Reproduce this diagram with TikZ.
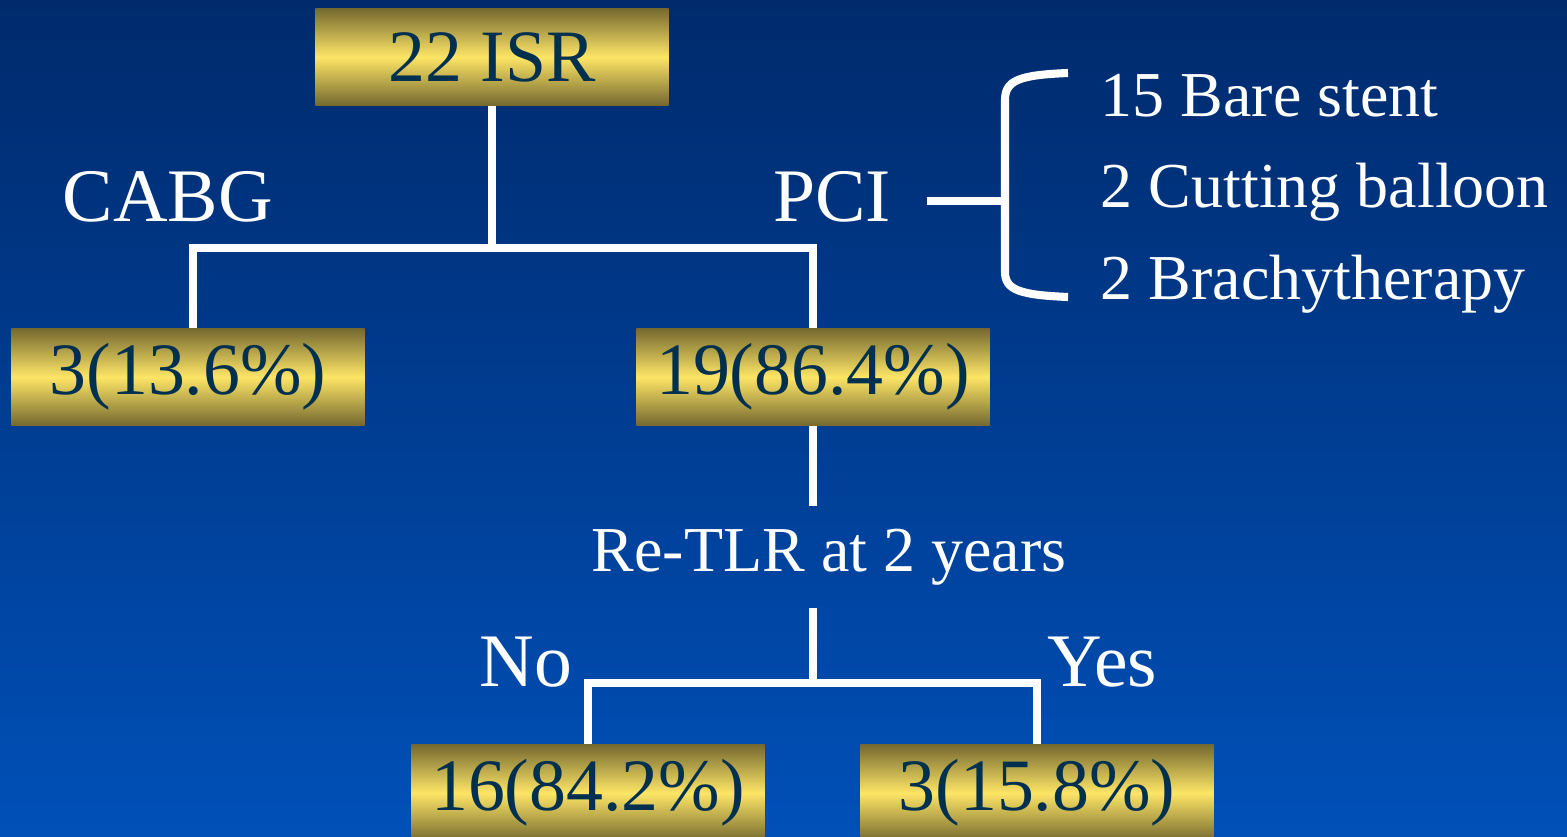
\documentclass[tikz,border=0pt]{standalone}
\usepackage{fontspec}
\setmainfont{Liberation Serif}
\definecolor{navytop}{HTML}{002A6C}
\definecolor{navybot}{HTML}{0050B8}
\definecolor{golddark}{HTML}{766A30}
\definecolor{goldlight}{HTML}{FDE566}
\definecolor{inkblue}{HTML}{00304F}
\tikzset{
  goldbox/.style={rectangle, top color=golddark, bottom color=golddark, middle color=goldlight,
    minimum width=3.53cm, minimum height=0.96cm, inner sep=0pt, text=inkblue,
    font=\fontsize{21}{24}\selectfont},
  bigtag/.style={text=white, inner sep=0pt, font=\fontsize{21.5}{24}\selectfont},
  smalltag/.style={text=white, inner sep=0pt, font=\fontsize{18.2}{22}\selectfont},
  wire/.style={draw=white, line width=2.3pt, line join=miter}
}
\begin{document}
\begin{tikzpicture}[x=0.01cm, y=-0.01cm]
    % Background
    \useasboundingbox (0,0) rectangle (1567,837);
    \shade[top color=navytop, bottom color=navybot] (0,0) rectangle (1567,837);

    % Boxes
    \node [goldbox] (isr) at (492,57) {22 ISR};
    \node [goldbox] (cabgbox) at (188,377) {3(13.6\%)};
    \node [goldbox] (pcibox) at (813,377) {19(86.4\%)};
    \node [goldbox] (nobox) at (588,793) {16(84.2\%)};
    \node [goldbox] (yesbox) at (1037,793) {3(15.8\%)};

    % Labels
    \node [bigtag] (cabg) at (168,197) {CABG};
    \node [bigtag] (pci) at (832,197) {PCI};
    \node [smalltag, minimum height=1.0cm] (retlr) at (829,557) {Re-TLR at 2 years};
    \node [bigtag] (no) at (526,662) {No};
    \node [bigtag] (yes) at (1102,662) {Yes};

    % PCI methods
    \node [smalltag, anchor=base west] (bare) at (1100,117) {15 Bare stent};
    \node [smalltag, anchor=base west] (cutting) at (1100,208) {2 Cutting balloon};
    \node [smalltag, anchor=base west] (brachy) at (1100,300) {2 Brachytherapy};

    % Tree lines
    \coordinate (split1) at (492,248);
    \coordinate (split2) at (813,683);
    \draw[wire] (isr.south) -- (split1);
    \draw[wire] (cabgbox.north -| 193,0) -- (split1 -| 193,0) -- (split1 -| pcibox.north) -- (pcibox.north);
    \draw[wire] (pcibox.south) -- (pcibox.south |- retlr.north);
    \draw[wire] (pcibox.south |- retlr.south) -- (split2);
    \draw[wire] (nobox.north) -- (split2 -| nobox.north) -- (split2 -| yesbox.north) -- (yesbox.north);

    % Bracket
    \coordinate (brtop) at (1068,73);
    \coordinate (brbot) at (1068,297);
    \coordinate (brmid) at (1005,201);
    \draw[wire] (pci.east) ++(35,4) -- (brmid);
    \draw[wire, line join=round] (brtop) .. controls (1020,75) and (1005,80) .. (1005,100)
        -- (1005,272) .. controls (1005,290) and (1020,295) .. (brbot);
\end{tikzpicture}
\end{document}
